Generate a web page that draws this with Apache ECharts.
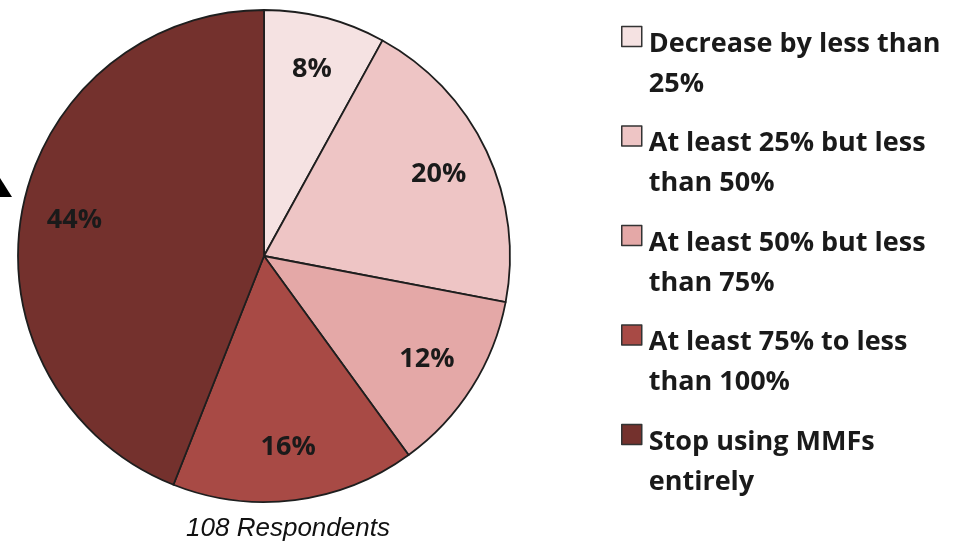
<!DOCTYPE html>
<html><head><meta charset="utf-8">
<script src="https://cdn.jsdelivr.net/npm/echarts@6/dist/echarts.min.js"></script>
<style>html,body{margin:0;padding:0;background:#fff}#c{width:965px;height:542px}</style>
</head><body><div id="c"></div>
<script>
const categories = ['Decrease by less than 25%','At least 25% but less than 50%','At least 50% but less than 75%','At least 75% to less than 100%','Stop using MMFs entirely'];
const legendLines = [['Decrease by less than','25%'],['At least 25% but less','than 50%'],['At least 50% but less','than 75%'],['At least 75% to less','than 100%'],['Stop using MMFs','entirely']];
const values = [8, 20, 12, 16, 44];
const colors = ['#F5E2E2','#EEC5C5','#E4A8A7','#A84A45','#74312D'];
const caption = '108 Respondents';

const chart = echarts.init(document.getElementById('c'));
const pieData = categories.map((n,i)=>({name:n, value:values[i], itemStyle:{color:colors[i]}}));
const tStyle = {fontFamily:'Open Sans', fontWeight:'bold', fontSize:27, lineHeight:40, color:'#1a1a1a', padding:[0,0,0,2]};
chart.setOption({
  animation:false,
  title:{text:caption, left:283, top:511, textAlign:'center',
    textStyle:{fontFamily:'Liberation Sans', fontStyle:'italic', fontWeight:'normal', fontSize:26, color:'#111'}},
  legend:{orient:'vertical', left:621, top:-17, padding:0, itemWidth:20, itemHeight:20, itemGap:-15,
    icon:'rect',
    itemStyle:{borderColor:'#333', borderWidth:1.5},
    formatter:(name)=>{const l=legendLines[categories.indexOf(name)]; return '{g| }\n{t|'+l[0]+'}\n{t|'+l[1]+'}';},
    textStyle:{fontFamily:'Open Sans', fontWeight:'bold', fontSize:27, color:'#1a1a1a',
      rich:{g:{fontSize:27, lineHeight:55}, t:tStyle}},
    data:categories},
  graphic:[{type:'polygon', shape:{points:[[0,178],[12,197],[0,197]]}, style:{fill:'#000'}}],
  series:[
    {type:'pie', center:[264,256], radius:[0,246], startAngle:90, clockwise:true, silent:true,
      itemStyle:{borderColor:'#1e1e1e', borderWidth:1.8},
      label:{show:false}, labelLine:{show:false}, data:pieData},
    {type:'pie', center:[264,256], radius:[140,240], startAngle:90, clockwise:true, silent:true,
      legendHoverLink:false,
      itemStyle:{color:'rgba(0,0,0,0)', borderWidth:0},
      label:{show:true, position:'inside', formatter:'{c}%', fontFamily:'Open Sans', fontWeight:'bold', fontSize:27, color:'#1a1a1a'},
      labelLine:{show:false},
      data:categories.map((n,i)=>({name:n+' ', value:values[i]}))}
  ]
});
</script></body></html>
